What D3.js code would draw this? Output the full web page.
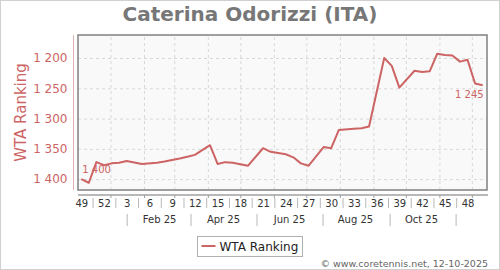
<!DOCTYPE html>
<html>
<head>
<meta charset="utf-8">
<title>Caterina Odorizzi (ITA)</title>
<script src="https://cdn.jsdelivr.net/npm/d3@7"></script>
<style>
    body { margin: 0; background: #fff; }
    svg text { font-family: "DejaVu Sans", sans-serif; }
    .grid line { stroke: #d8d8d8; stroke-dasharray: 3,3; }
    .grid path { display: none; }
</style>
</head>
<body>
<script>
    // ranking data (one point per ranking week, thursday of the week)
    var rankDates = [
        "2024-12-05", "2024-12-12", "2024-12-19", "2024-12-26", "2025-01-02",
        "2025-01-09", "2025-01-16", "2025-01-30", "2025-02-13", "2025-02-20",
        "2025-03-06", "2025-03-13", "2025-03-20", "2025-04-03", "2025-04-10",
        "2025-04-17", "2025-04-24", "2025-05-08", "2025-05-22", "2025-05-29",
        "2025-06-12", "2025-06-19", "2025-06-26", "2025-07-03", "2025-07-17",
        "2025-07-24", "2025-07-31", "2025-08-14", "2025-08-21", "2025-08-28",
        "2025-09-11", "2025-09-18", "2025-09-25", "2025-10-09", "2025-10-16",
        "2025-10-23", "2025-10-30", "2025-11-06", "2025-11-13", "2025-11-20",
        "2025-11-27", "2025-12-04", "2025-12-11"
    ];
    var wtaRanks = [
        1400, 1406, 1372, 1377, 1374,
        1373, 1370, 1375, 1373, 1371,
        1366, 1363, 1360, 1344, 1375,
        1372, 1373, 1378, 1349, 1355,
        1359, 1364, 1374, 1378, 1347,
        1349, 1319, 1317, 1316, 1313,
        1200, 1213, 1249, 1221, 1223,
        1222, 1193, 1195, 1196, 1206,
        1203, 1242, 1245
    ];

    // axis labels
    var yTicks = [1200, 1250, 1300, 1350, 1400];
    var weekLabels = ["49", "52", "3", "6", "9", "12", "15", "18", "21", "24",
        "27", "30", "33", "36", "39", "42", "45", "48"];
    var weekLabelDates = ["2024-12-05", "2024-12-26", "2025-01-16", "2025-02-06",
        "2025-02-27", "2025-03-20", "2025-04-10", "2025-05-01", "2025-05-22",
        "2025-06-12", "2025-07-03", "2025-07-24", "2025-08-14", "2025-09-04",
        "2025-09-25", "2025-10-16", "2025-11-06", "2025-11-27"];
    var monthLabels = ["Feb 25", "Apr 25", "Jun 25", "Aug 25", "Oct 25"];
    var monthLabelDates = ["2025-02-15", "2025-04-15", "2025-06-15", "2025-08-15", "2025-10-15"];
    var monthSepDates = ["2025-01-16", "2025-03-16", "2025-05-16", "2025-07-16", "2025-09-16", "2025-11-16"];

    var W = 500, H = 270;
    var plot = {left: 78, right: 487, top: 35, bottom: 190};
    var red = "#cd6464";

    var parseDate = d3.utcParse("%Y-%m-%d");
    var data = rankDates.map(function (d, i) {
        return {date: parseDate(d), rank: wtaRanks[i]};
    });

    var x = d3.scaleUtc()
        .domain([parseDate("2024-12-02"), parseDate("2025-12-15")])
        .range([plot.left, plot.right]);
    var y = d3.scaleLinear()
        .domain([1162, 1418])
        .range([plot.top, plot.bottom]);

    var fmt = d3.formatLocale({decimal: ".", thousands: " ", grouping: [3], currency: ["", ""]}).format(",d");

    var svg = d3.select("body").append("svg")
        .attr("width", W)
        .attr("height", H);

    // outer frame
    svg.append("rect")
        .attr("x", 0.5).attr("y", 0.5)
        .attr("width", W - 1).attr("height", H - 1)
        .attr("fill", "#fff")
        .attr("stroke", "#d0d0d0");

    // plot background
    svg.append("rect")
        .attr("x", plot.left).attr("y", plot.top)
        .attr("width", plot.right - plot.left)
        .attr("height", plot.bottom - plot.top)
        .attr("fill", "#f9f9f9");

    // grid lines
    svg.append("g")
        .attr("class", "grid")
        .attr("transform", "translate(" + plot.left + ",0)")
        .call(d3.axisLeft(y).tickValues(yTicks).tickSize(-(plot.right - plot.left)).tickFormat(""));

    var monthStarts = d3.utcMonth.range(parseDate("2025-01-01"), parseDate("2025-12-02"));
    svg.append("g")
        .attr("class", "grid")
        .attr("transform", "translate(0," + plot.bottom + ")")
        .call(d3.axisBottom(x).tickValues(monthStarts).tickSize(-(plot.bottom - plot.top)).tickFormat(""));

    // plot frame
    svg.append("rect")
        .attr("x", plot.left).attr("y", plot.top)
        .attr("width", plot.right - plot.left)
        .attr("height", plot.bottom - plot.top)
        .attr("fill", "none")
        .attr("stroke", "#808080")
        .attr("stroke-width", 1.5);

    // y axis
    var yAxis = svg.append("g")
        .attr("transform", "translate(73.5,0)")
        .call(d3.axisLeft(y).tickValues(yTicks).tickSize(0).tickPadding(6).tickFormat(fmt));
    yAxis.select(".domain").attr("stroke", "#e0b0b0").attr("d", "M0," + plot.top + "V" + plot.bottom);
    yAxis.selectAll("text").attr("fill", red).style("font-size", "12px");

    svg.append("text")
        .attr("transform", "translate(26," + ((plot.top + plot.bottom) / 2) + ") rotate(-90)")
        .attr("text-anchor", "middle")
        .attr("fill", red)
        .style("font-size", "15px")
        .text("WTA Ranking");

    // x axis: week numbers
    var xAxis = svg.append("g")
        .attr("transform", "translate(0,195)")
        .call(d3.axisBottom(x).tickValues(weekLabelDates.map(parseDate)).tickSize(0).tickPadding(5)
            .tickFormat(function (d, i) { return weekLabels[i]; }));
    xAxis.select(".domain").attr("stroke", "#a0a0a0").attr("stroke-width", 1.5)
        .attr("d", "M" + plot.left + ",0H" + (plot.right + 1));
    xAxis.selectAll("text").attr("fill", "#333").style("font-size", "10px");

    // small marks at month starts
    svg.append("g")
        .attr("transform", "translate(0,195)")
        .call(d3.axisBottom(x).tickValues(monthStarts).tickSize(3).tickFormat(""))
        .call(function (g) {
            g.select(".domain").remove();
            g.selectAll("line").attr("stroke", "#a0a0a0");
        });

    // separators between week labels
    var weekSeps = d3.pairs(weekLabelDates.map(parseDate)).map(function (p) {
        return new Date((p[0].getTime() + p[1].getTime()) / 2);
    });
    svg.append("g")
        .attr("transform", "translate(0,198)")
        .call(d3.axisBottom(x).tickValues(weekSeps).tickSize(10).tickFormat(""))
        .call(function (g) {
            g.select(".domain").remove();
            g.selectAll("line").attr("stroke", "#b8b8b8");
        });

    // second row: months
    svg.append("g")
        .attr("transform", "translate(0,214)")
        .call(d3.axisBottom(x).tickValues(monthSepDates.map(parseDate)).tickSize(12).tickFormat(""))
        .call(function (g) {
            g.select(".domain").remove();
            g.selectAll("line").attr("stroke", "#b8b8b8");
        });
    var monthAxis = svg.append("g")
        .attr("transform", "translate(0,213)")
        .call(d3.axisBottom(x).tickValues(monthLabelDates.map(parseDate)).tickSize(0).tickPadding(3)
            .tickFormat(function (d, i) { return monthLabels[i]; }));
    monthAxis.select(".domain").remove();
    monthAxis.selectAll("text").attr("fill", "#333").style("font-size", "10px");

    // ranking line
    var line = d3.line()
        .x(function (d) { return x(d.date); })
        .y(function (d) { return y(d.rank); });

    svg.append("path")
        .datum(data)
        .attr("fill", "none")
        .attr("stroke", red)
        .attr("stroke-width", 2)
        .attr("stroke-linejoin", "round")
        .attr("d", line);

    // first / last value labels
    var first = data[0], last = data[data.length - 1];
    svg.append("text")
        .attr("x", x(first.date) + 1)
        .attr("y", y(first.rank) - 6)
        .attr("fill", red)
        .style("font-size", "10px")
        .text(fmt(first.rank));
    svg.append("text")
        .attr("x", x(last.date) + 1)
        .attr("y", y(last.rank) + 13)
        .attr("text-anchor", "end")
        .attr("fill", red)
        .style("font-size", "10px")
        .text(fmt(last.rank));

    // title
    svg.append("text")
        .attr("x", W / 2)
        .attr("y", 21)
        .attr("text-anchor", "middle")
        .attr("fill", "#777")
        .style("font-size", "20px")
        .style("font-weight", "bold")
        .text("Caterina Odorizzi (ITA)");

    // legend
    var legend = svg.append("g").attr("transform", "translate(197.5,236.5)");
    legend.append("rect")
        .attr("width", 105).attr("height", 20)
        .attr("fill", "#fff").attr("stroke", "#b0b0b0");
    legend.append("line")
        .attr("x1", 4).attr("x2", 18).attr("y1", 9.5).attr("y2", 9.5)
        .attr("stroke", red).attr("stroke-width", 2);
    legend.append("text")
        .attr("x", 22).attr("y", 14.5)
        .attr("fill", "#222")
        .style("font-size", "12px")
        .text("WTA Ranking");

    // credit
    svg.append("text")
        .attr("x", 488)
        .attr("y", 267)
        .attr("text-anchor", "end")
        .attr("fill", "#666")
        .style("font-size", "9.5px")
        .text("\u00a9 www.coretennis.net, 12-10-2025");
</script>
</body>
</html>
